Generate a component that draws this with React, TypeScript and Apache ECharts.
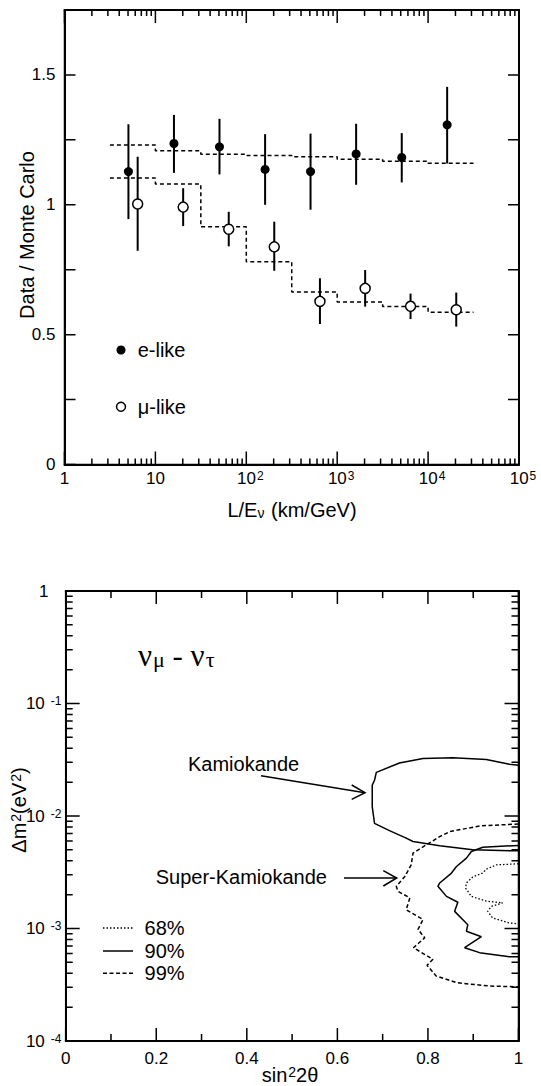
import React, { useEffect, useRef } from "react";
import * as echarts from "echarts";

const FONT = '"Liberation Sans", Arial, Helvetica, sans-serif';
const SERIF = '"Liberation Serif", "Times New Roman", serif';
const INK = "#000";

// ---------- Top panel: Data / Monte Carlo vs L/E_nu ----------
const eLikeX = [5.05, 16.0, 50.7, 161, 509, 1615, 5130, 16200];
const eLikeY = [1.128, 1.236, 1.223, 1.136, 1.128, 1.196, 1.182, 1.308];
const eLikeLow = [0.945, 1.123, 1.117, 1.0, 0.981, 1.077, 1.086, 1.159];
const eLikeHigh = [1.31, 1.346, 1.331, 1.272, 1.274, 1.312, 1.276, 1.454];

const muLikeX = [6.38, 20.2, 64.1, 203, 646, 2030, 6410, 20400];
const muLikeY = [1.003, 0.991, 0.906, 0.838, 0.628, 0.678, 0.609, 0.596];
const muLikeLow = [0.823, 0.918, 0.84, 0.746, 0.541, 0.608, 0.56, 0.531];
const muLikeHigh = [1.185, 1.064, 0.973, 0.935, 0.717, 0.749, 0.658, 0.662];

const mcBinEdges = [3.16, 10, 31.6, 100, 316, 1000, 3160, 10000, 31600];
const eLikeMC = [1.23, 1.208, 1.195, 1.19, 1.185, 1.175, 1.168, 1.16];
const muLikeMC = [1.103, 1.08, 0.915, 0.781, 0.664, 0.626, 0.608, 0.586];

// tick values
const topXDecades = [1, 10, 100, 1000, 10000, 100000];
const topYTicks = [0, 0.25, 0.5, 0.75, 1, 1.25, 1.5, 1.75];
const topYLabelValues = [0, 0.5, 1, 1.5];
const botXMajor = [0, 0.2, 0.4, 0.6, 0.8, 1];
const botXMinor = [0.1, 0.3, 0.5, 0.7, 0.9];
const botYDecades = [0.0001, 0.001, 0.01, 0.1, 1];
const minorMultipliers = [2, 3, 4, 5, 6, 7, 8, 9];

// ---------- Bottom panel: Delta m^2 vs sin^2 2theta ----------
const kamiokande90 = [
  [1.0, 0.0282], [0.98, 0.0288], [0.929, 0.0318], [0.855, 0.033], [0.789, 0.0325],
  [0.737, 0.0296], [0.686, 0.0244], [0.682, 0.0208], [0.677, 0.0188], [0.677, 0.0121],
  [0.682, 0.00861], [0.715, 0.00741], [0.752, 0.00635], [0.767, 0.00593], [0.826, 0.00543],
  [0.899, 0.005], [1.0, 0.0049],
];
const superK68 = [
  [1.0, 0.00376], [0.951, 0.00368], [0.929, 0.00337], [0.921, 0.00311], [0.899, 0.00287],
  [0.885, 0.00254], [0.883, 0.00229], [0.896, 0.00193], [0.929, 0.00175], [0.965, 0.00169],
  [0.94, 0.00157], [0.932, 0.00142], [0.943, 0.00124], [0.98, 0.00112], [1.0, 0.0011],
];
const superK90 = [
  [1.0, 0.00548], [0.921, 0.00528], [0.896, 0.00483], [0.885, 0.00422], [0.863, 0.00356],
  [0.852, 0.00311], [0.826, 0.00254], [0.822, 0.00237], [0.841, 0.00193], [0.866, 0.00171],
  [0.859, 0.00142], [0.888, 0.00108], [0.885, 0.000946], [0.918, 0.000845], [0.881, 0.000675],
  [0.914, 0.00061], [0.98, 0.000562], [1.0, 0.00056],
];
const superK99 = [
  [1.0, 0.00849], [0.914, 0.00816], [0.848, 0.00726], [0.826, 0.00656], [0.796, 0.00553],
  [0.767, 0.00468], [0.763, 0.00368], [0.749, 0.0029], [0.73, 0.00237], [0.734, 0.00214],
  [0.76, 0.00187], [0.752, 0.00147], [0.789, 0.0012], [0.778, 0.00098], [0.793, 0.000827],
  [0.768, 0.000675], [0.811, 0.000532], [0.798, 0.000471], [0.818, 0.000379], [0.863, 0.00033],
  [0.936, 0.000308], [1.0, 0.000303],
];
const clLegendLabels = ["68%", "90%", "99%"];

// ---------- layout ----------
const TOP = { left: 64.5, top: 10, width: 454.5, height: 454.5 };
const BOT = { left: 65.7, top: 591, width: 452.8, height: 450 };

const mkAxisLine = () => ({ show: true, onZero: false, lineStyle: { color: INK, width: 2 } });

const tickRich: any = {
  b: { fontSize: 17, fontFamily: FONT, color: INK, lineHeight: 17 },
  s: { fontSize: 12, fontFamily: FONT, color: INK, lineHeight: 12, verticalAlign: "top", padding: [0, 0, 20, 1] },
  p: { width: 8, fontSize: 12, lineHeight: 12 },
};
const yTickRich: any = {
  b: { fontSize: 17, fontFamily: FONT, color: INK, lineHeight: 17 },
  s: { fontSize: 12, fontFamily: FONT, color: INK, lineHeight: 12, verticalAlign: "top", padding: [0, 0, 20, 6] },
};

const logXLabel = (v: number) => {
  const e = Math.round(Math.log10(v));
  if (e === 0) return "{b|1}";
  if (e === 1) return "{b|10}";
  return `{p| }{b|10}{s|${e}}`;
};
const logYLabel = (v: number) => {
  const e = Math.round(Math.log10(v));
  if (e === 0) return "{b|1}";
  return `{b|10}{s|-${Math.abs(e)}}`;
};
const topYLabel = (v: number) =>
  topYLabelValues.some((t) => Math.abs(t - v) < 1e-6) ? `${v}` : "";

const steps = (edges: number[], vals: number[]) =>
  vals.flatMap((v, i) => [[edges[i], v], [edges[i + 1], v]]);

const errorBars = (xs: number[], lo: number[], hi: number[]) => xs.map((x, i) => [x, lo[i], hi[i]]);

const logMinors = (decades: number[]) =>
  decades.slice(0, -1).flatMap((d) => minorMultipliers.map((m) => +(d * m).toPrecision(6)));

const renderErr = (_p: any, api: any) => {
  const x = api.value(0);
  const a = api.coord([x, api.value(1)]);
  const b = api.coord([x, api.value(2)]);
  return { type: "line", shape: { x1: a[0], y1: a[1], x2: b[0], y2: b[1] }, style: { stroke: INK, lineWidth: 2 } };
};

const txt = (x: number, y: number, text: string, rich: any, extra: any = {}) => ({
  type: "text",
  x,
  y,
  rotation: extra.rotation || 0,
  style: { text, rich, align: extra.align || "left", verticalAlign: "middle", fill: INK },
});

const titleRich: any = {
  b: { fontSize: 20, fontFamily: FONT, fill: INK, lineHeight: 20 },
  s: { fontSize: 14, fontFamily: FONT, fill: INK, lineHeight: 14, verticalAlign: "top", padding: [0, 0, 18, 1] },
  d: { fontSize: 14, fontFamily: FONT, fill: INK, lineHeight: 14, verticalAlign: "bottom", padding: [16, 1, 0, 0] },
};
const nuRich: any = {
  n: { fontSize: 31, fontFamily: SERIF, fill: INK, lineHeight: 31 },
  d: { fontSize: 22, fontFamily: SERIF, fill: INK, lineHeight: 22, verticalAlign: "bottom", padding: [16, 0, 0, 1] },
};

// Axis mappings matching the axis definitions (log 1..1e5 / linear 0..1.75; linear 0..1 / log 1e-4..1).
const topXpx = (v: number) => TOP.left + (Math.log10(v) / 5) * TOP.width;
const topYpx = (v: number) => TOP.top + TOP.height * (1 - v / 1.75);
const botXpx = (v: number) => BOT.left + v * BOT.width;
const botYpx = (v: number) => BOT.top + BOT.height * (-Math.log10(v) / 4);

function tickMarks(): any[] {
  const zig = (pos: number[], lens: number[], edge: number, dir: number, horiz: boolean) => {
    const items = pos.map((p, i) => [p, lens[i]]).sort((a, b) => a[0] - b[0]);
    const pts: number[][] = [];
    items.forEach(([p, len]) => {
      if (horiz) pts.push([p, edge], [p, edge + dir * len], [p, edge]);
      else pts.push([edge, p], [edge + dir * len, p], [edge, p]);
    });
    return {
      type: "polyline",
      z: 50,
      shape: { points: pts },
      style: { stroke: INK, lineWidth: 1.5, fill: null, lineJoin: "bevel" },
    };
  };
  const tMinor = logMinors(topXDecades);
  const tx = [...topXDecades, ...tMinor].map(topXpx);
  const txLen = [...topXDecades.map(() => 13), ...tMinor.map(() => 6)];
  const ty = topYTicks.map(topYpx);
  const tyLen = topYTicks.map(() => 11);
  const tB = TOP.top + TOP.height, tT = TOP.top, tL = TOP.left, tR = TOP.left + TOP.width;

  const bx = [...botXMajor, ...botXMinor].map(botXpx);
  const bxLen = [...botXMajor.map(() => 13), ...botXMinor.map(() => 7)];
  const bMinor = logMinors(botYDecades);
  const by = [...botYDecades, ...bMinor].map(botYpx);
  const byLen = [...botYDecades.map(() => 14), ...bMinor.map(() => 7)];
  const bB = BOT.top + BOT.height, bT = BOT.top, bL = BOT.left, bR = BOT.left + BOT.width;

  return [
    zig(tx, txLen, tB, -1, true), zig(tx, txLen, tT, 1, true),
    zig(ty, tyLen, tL, 1, false), zig(ty, tyLen, tR, -1, false),
    zig(bx, bxLen, bB, -1, true), zig(bx, bxLen, bT, 1, true),
    zig(by, byLen, bL, 1, false), zig(by, byLen, bR, -1, false),
  ];
}

function annotations(): any[] {
  const line = (x1: number, y1: number, x2: number, y2: number, dash: any) => ({
    type: "line",
    shape: { x1, y1, x2, y2 },
    style: dash ? { stroke: INK, lineWidth: 1.5, lineDash: dash } : { stroke: INK, lineWidth: 1.5 },
  });
  const arrowHead = (pts: number[][]) => ({
    type: "polyline",
    shape: { points: pts },
    style: { stroke: INK, lineWidth: 1.5 },
  });
  return [
    txt(27, 235, "{b|Data / Monte Carlo}", titleRich, { rotation: Math.PI / 2, align: "center" }),
    txt(292, 510, "{b|L/E}{d|ν}{b| (km/GeV)}", titleRich, { align: "center" }),
    { type: "circle", shape: { cx: 121, cy: 350, r: 4.5 }, style: { fill: INK } },
    { type: "circle", shape: { cx: 121, cy: 406.7, r: 4.5 }, style: { fill: "#fff", stroke: INK, lineWidth: 1.5 } },
    txt(137.7, 350, "{b|e-like}", titleRich),
    txt(137.7, 406.7, "{b|μ-like}", titleRich),
    txt(19, 810, "{b|Δm}{s|2}{b|(eV}{s|2}{b|)}", titleRich, { rotation: Math.PI / 2, align: "center" }),
    txt(290, 1075, "{b|sin}{s|2}{b|2θ}", titleRich, { align: "center" }),
    txt(138, 655, "{n|ν}{d|μ}{n| - ν}{d|τ}", nuRich),
    txt(188, 764, "{b|Kamiokande}", titleRich),
    line(261, 775.7, 365, 792.7, null),
    arrowHead([[351.7, 785], [365, 792.7], [351.7, 799.3]]),
    txt(155.7, 877, "{b|Super-Kamiokande}", titleRich),
    line(344, 878, 396.7, 878, null),
    arrowHead([[383.3, 870.7], [396.7, 878], [383.3, 886]]),
    line(103, 928, 133, 928, [1.5, 2]),
    line(103, 951, 133, 951, null),
    line(103, 973.3, 133, 973.3, [4, 2.5]),
    txt(144.6, 928, `{b|${clLegendLabels[0]}}`, titleRich),
    txt(144.6, 951, `{b|${clLegendLabels[1]}}`, titleRich),
    txt(144.6, 973.3, `{b|${clLegendLabels[2]}}`, titleRich),
  ];
}

function buildOption(): any {
  return {
    animation: false,
    grid: [{ ...TOP }, { ...BOT }],
    xAxis: [
      {
        gridIndex: 0, type: "log", logBase: 10, min: 1, max: 100000, position: "bottom",
        axisLine: mkAxisLine(), splitLine: { show: false }, axisTick: { show: false },
        axisLabel: { formatter: logXLabel, rich: tickRich, margin: 14, verticalAlign: "middle", color: INK },
      },
      {
        gridIndex: 0, type: "log", logBase: 10, min: 1, max: 100000, position: "top",
        axisLine: mkAxisLine(), splitLine: { show: false }, axisTick: { show: false },
        axisLabel: { show: false },
      },
      {
        gridIndex: 1, type: "value", min: 0, max: 1, interval: 0.2, position: "bottom",
        axisLine: mkAxisLine(), splitLine: { show: false }, axisTick: { show: false },
        axisLabel: { fontSize: 17, fontFamily: FONT, color: INK, margin: 17, verticalAlign: "middle" },
      },
      {
        gridIndex: 1, type: "value", min: 0, max: 1, interval: 0.2, position: "top",
        axisLine: mkAxisLine(), splitLine: { show: false }, axisTick: { show: false },
        axisLabel: { show: false },
      },
    ],
    yAxis: [
      {
        gridIndex: 0, type: "value", min: 0, max: 1.75, interval: 0.25, position: "left",
        axisLine: mkAxisLine(), splitLine: { show: false }, axisTick: { show: false },
        axisLabel: { formatter: topYLabel, fontSize: 17, fontFamily: FONT, color: INK, margin: 9 },
      },
      {
        gridIndex: 0, type: "value", min: 0, max: 1.75, interval: 0.25, position: "right",
        axisLine: mkAxisLine(), splitLine: { show: false }, axisTick: { show: false },
        axisLabel: { show: false },
      },
      {
        gridIndex: 1, type: "log", logBase: 10, min: 0.0001, max: 1, position: "left",
        axisLine: mkAxisLine(), splitLine: { show: false }, axisTick: { show: false },
        axisLabel: { formatter: logYLabel, rich: yTickRich, margin: 22, align: "center", color: INK },
      },
      {
        gridIndex: 1, type: "log", logBase: 10, min: 0.0001, max: 1, position: "right",
        axisLine: mkAxisLine(), splitLine: { show: false }, axisTick: { show: false },
        axisLabel: { show: false },
      },
    ],
    series: [
      {
        type: "line", xAxisIndex: 0, yAxisIndex: 0, data: steps(mcBinEdges, eLikeMC),
        showSymbol: false, symbol: "none", lineStyle: { color: INK, width: 1.5, type: [4, 3] }, z: 2,
      },
      {
        type: "line", xAxisIndex: 0, yAxisIndex: 0, data: steps(mcBinEdges, muLikeMC),
        showSymbol: false, symbol: "none", lineStyle: { color: INK, width: 1.5, type: [4, 3] }, z: 2,
      },
      {
        type: "custom", xAxisIndex: 0, yAxisIndex: 0, renderItem: renderErr,
        data: errorBars(eLikeX, eLikeLow, eLikeHigh), encode: { x: 0, y: [1, 2] }, z: 3,
      },
      {
        type: "custom", xAxisIndex: 0, yAxisIndex: 0, renderItem: renderErr,
        data: errorBars(muLikeX, muLikeLow, muLikeHigh), encode: { x: 0, y: [1, 2] }, z: 3,
      },
      {
        type: "scatter", xAxisIndex: 0, yAxisIndex: 0, symbol: "circle", symbolSize: 9,
        data: eLikeX.map((x, i) => [x, eLikeY[i]]), itemStyle: { color: INK, opacity: 1 }, z: 4,
      },
      {
        type: "scatter", xAxisIndex: 0, yAxisIndex: 0, symbol: "circle", symbolSize: 10,
        data: muLikeX.map((x, i) => [x, muLikeY[i]]),
        itemStyle: { color: "#fff", borderColor: INK, borderWidth: 1.5, opacity: 1 }, z: 4,
      },
      {
        type: "line", xAxisIndex: 2, yAxisIndex: 2, data: kamiokande90, showSymbol: false, symbol: "none",
        lineStyle: { color: INK, width: 1.5, type: "solid" },
      },
      {
        type: "line", xAxisIndex: 2, yAxisIndex: 2, data: superK68, showSymbol: false, symbol: "none",
        lineStyle: { color: INK, width: 1.3, type: [1.5, 2] },
      },
      {
        type: "line", xAxisIndex: 2, yAxisIndex: 2, data: superK90, showSymbol: false, symbol: "none",
        lineStyle: { color: INK, width: 1.5, type: "solid" },
      },
      {
        type: "line", xAxisIndex: 2, yAxisIndex: 2, data: superK99, showSymbol: false, symbol: "none",
        lineStyle: { color: INK, width: 1.5, type: [4, 2.5] },
      },
    ],
    graphic: { elements: [...annotations(), ...tickMarks()] },
  };
}

export default function App() {
  const ref = useRef<HTMLDivElement>(null);
  useEffect(() => {
    if (!ref.current) return;
    const chart = echarts.init(ref.current, null, { renderer: "svg" });
    chart.setOption(buildOption());
    return () => chart.dispose();
  }, []);
  return (
    <div
      ref={ref}
      style={{ position: "absolute", left: 0, top: 0, width: 541, height: 1086, background: "#fff" }}
    />
  );
}
